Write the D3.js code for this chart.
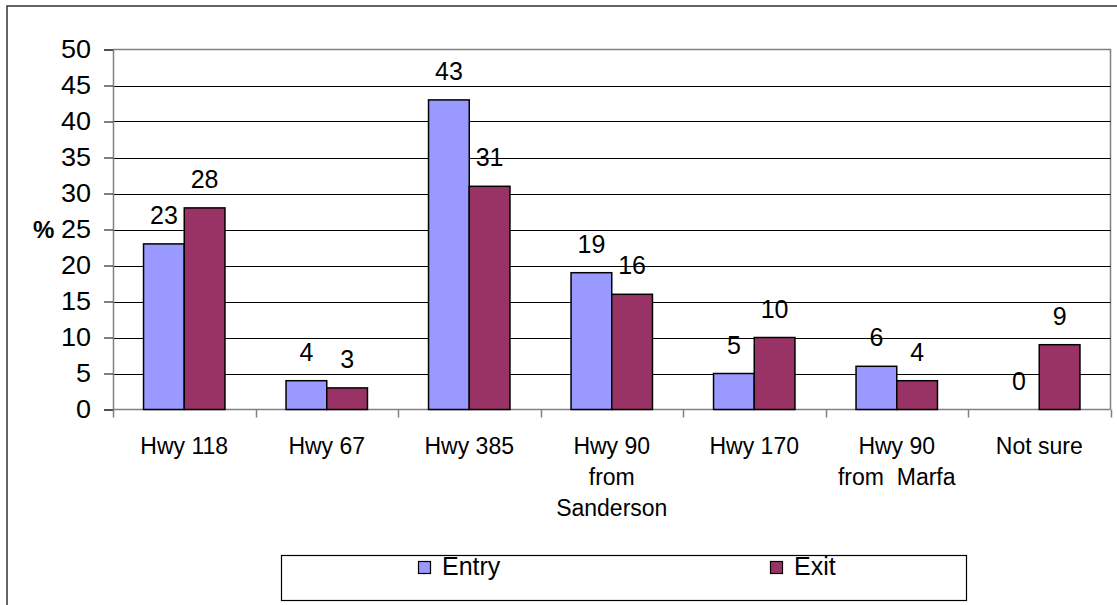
<!DOCTYPE html>
<html>
<head>
<meta charset="utf-8">
<script src="https://cdn.jsdelivr.net/npm/d3@7"></script>
<style>
  html, body { margin: 0; padding: 0; background: #fff; }
  svg { display: block; font-family: "Liberation Sans", Arial, sans-serif; }
</style>
</head>
<body>
<svg id="chart" width="1117" height="605"></svg>
<script>
// Route used to enter / exit, percent of respondents
const categories = [
  ["Hwy 118"],
  ["Hwy 67"],
  ["Hwy 385"],
  ["Hwy 90", "from", "Sanderson"],
  ["Hwy 170"],
  ["Hwy 90", "from  Marfa"],
  ["Not sure"]
];
const seriesNames = ["Entry", "Exit"];
const entryValues = [23, 4, 43, 19, 5, 6, 0];
const exitValues  = [28, 3, 31, 16, 10, 4, 9];
const yTicks = [0, 5, 10, 15, 20, 25, 30, 35, 40, 45, 50];
const colors = ["#9999FF", "#993366"];

const svg = d3.select("#chart");

// widen glyphs horizontally by a factor, keeping the anchor point
function stretch(sel, factor) {
  sel.each(function () {
    const w = this.getComputedTextLength();
    d3.select(this)
      .attr("textLength", w * factor)
      .attr("lengthAdjust", "spacingAndGlyphs");
  });
}

// outer chart frame
svg.append("rect")
  .attr("x", 7).attr("y", 6)
  .attr("width", 1130).attr("height", 620)
  .attr("fill", "none").attr("stroke", "#333").attr("stroke-width", 1.5);

const plot = { left: 113, right: 1110.5, top: 49.5, bottom: 409.5 };

const x = d3.scaleBand()
  .domain(d3.range(categories.length))
  .range([plot.left, plot.right])
  .paddingInner(0).paddingOuter(0);

const y = d3.scaleLinear().domain([0, 50]).range([plot.bottom, plot.top]);

const inner = d3.scaleBand().domain(seriesNames)
  .range([0, x.bandwidth()]).paddingInner(0).paddingOuter(0.75);

// plot-area border (top and right)
svg.append("path")
  .attr("d", `M${plot.left},${plot.top}H${plot.right}V${plot.bottom}`)
  .attr("fill", "none").attr("stroke", "#808080").attr("stroke-width", 1.5);

// horizontal gridlines
svg.append("g").selectAll("line")
  .data(yTicks.filter(t => t > 0 && t < 50))
  .join("line")
  .attr("x1", plot.left).attr("x2", plot.right)
  .attr("y1", d => Math.round(y(d)) + 0.5).attr("y2", d => Math.round(y(d)) + 0.5)
  .attr("stroke", "#000").attr("stroke-width", 1);

// y axis
const yAxis = svg.append("g")
  .attr("transform", `translate(${plot.left},0)`)
  .call(d3.axisLeft(y).tickValues(yTicks).tickSize(9).tickPadding(22));
yAxis.select(".domain").attr("stroke", "#808080").attr("stroke-width", 1.5);
yAxis.selectAll(".tick line").attr("stroke", "#000");
yAxis.selectAll(".tick text")
  .attr("font-size", 25).attr("fill", "#000")
  .attr("font-family", "Liberation Sans, Arial, sans-serif")
  .attr("x", -22)
  .call(stretch, 1.08);

// y axis title
svg.append("text")
  .attr("x", 33).attr("y", y(25)).attr("dy", "0.36em")
  .attr("font-size", 24).attr("font-weight", "bold")
  .text("%");

// x axis line and category separators
svg.append("line")
  .attr("x1", plot.left).attr("x2", plot.right)
  .attr("y1", plot.bottom).attr("y2", plot.bottom)
  .attr("stroke", "#808080").attr("stroke-width", 1.5);
svg.append("g").selectAll("line")
  .data(d3.range(categories.length + 1))
  .join("line")
  .attr("x1", d => Math.round(plot.left + d * x.step()) + 0.5)
  .attr("x2", d => Math.round(plot.left + d * x.step()) + 0.5)
  .attr("y1", plot.bottom).attr("y2", plot.bottom + 8)
  .attr("stroke", "#808080").attr("stroke-width", 1.5);

// bars
const rows = categories.map((c, i) => ({ i, vals: [entryValues[i], exitValues[i]] }));
const groups = svg.append("g").selectAll("g")
  .data(rows).join("g")
  .attr("transform", d => `translate(${x(d.i)},0)`);

groups.selectAll("rect")
  .data(d => d.vals.map((v, k) => ({ v, k })).filter(e => e.v > 0))
  .join("rect")
  .attr("x", e => inner(seriesNames[e.k]))
  .attr("y", e => y(e.v))
  .attr("width", inner.bandwidth())
  .attr("height", e => y(0) - y(e.v))
  .attr("fill", e => colors[e.k])
  .attr("stroke", "#000").attr("stroke-width", 1.5);

// value labels
groups.selectAll("text.val")
  .data(d => d.vals.map((v, k) => ({ v, k })))
  .join("text")
  .attr("class", "val")
  .attr("x", e => inner(seriesNames[e.k]) + inner.bandwidth() / 2)
  .attr("y", e => y(e.v) - 20)
  .attr("text-anchor", "middle")
  .attr("font-size", 25)
  .text(e => e.v);

// category labels
const catLabels = svg.append("g").selectAll("text")
  .data(categories).join("text")
  .attr("x", (d, i) => x(i) + x.bandwidth() / 2)
  .attr("y", 454)
  .attr("text-anchor", "middle")
  .attr("font-size", 23);
catLabels.selectAll("tspan")
  .data(d => d).join("tspan")
  .attr("x", function () { return d3.select(this.parentNode).attr("x"); })
  .attr("dy", (d, j) => j === 0 ? 0 : 31)
  .style("white-space", "pre")
  .text(d => d);

// legend
const legend = svg.append("g");
legend.append("rect")
  .attr("x", 281.5).attr("y", 555.5)
  .attr("width", 685).attr("height", 45)
  .attr("fill", "#fff").attr("stroke", "#000").attr("stroke-width", 1.2);
const legendX = [418, 770];
seriesNames.forEach((name, k) => {
  legend.append("rect")
    .attr("x", legendX[k] + 0.5).attr("y", 561.5)
    .attr("width", 12).attr("height", 12)
    .attr("fill", colors[k]).attr("stroke", "#000").attr("stroke-width", 1.2);
  legend.append("text")
    .attr("x", legendX[k] + 24).attr("y", 575)
    .attr("font-size", 25)
    .text(name);
});
</script>
</body>
</html>
